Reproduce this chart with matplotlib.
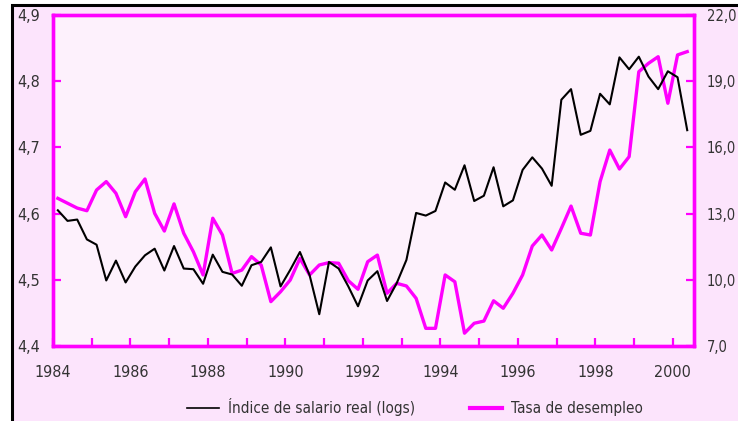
import numpy as np
import matplotlib
matplotlib.use("Agg")
import matplotlib.pyplot as plt
from matplotlib.patches import Rectangle
from matplotlib.lines import Line2D
from matplotlib.ticker import FixedLocator, FuncFormatter
from matplotlib import font_manager

names = [f.name for f in font_manager.fontManager.ttflist]
if 'Liberation Sans Narrow' in names:
    plt.rcParams['font.family'] = ['Liberation Sans Narrow', 'DejaVu Sans']
else:
    plt.rcParams['font.family'] = ['DejaVu Sans', 'Liberation Sans']
    plt.rcParams['font.stretch'] = 'condensed'

# Quarterly observations 1984Q1 .. 2000Q2 (plotted at mid-quarter)
quarters = 1984.125 + 0.25 * np.arange(66)

salario_real_log = [
    4.605, 4.589, 4.591, 4.561, 4.553, 4.499, 4.529, 4.496,
    4.520, 4.537, 4.547, 4.514, 4.551, 4.517, 4.516, 4.494,
    4.538, 4.512, 4.508, 4.491, 4.522, 4.527, 4.549, 4.490,
    4.515, 4.542, 4.507, 4.448, 4.527, 4.517, 4.490, 4.460,
    4.499, 4.513, 4.468, 4.495, 4.530, 4.601, 4.597, 4.604,
    4.647, 4.636, 4.673, 4.619, 4.627, 4.670, 4.611, 4.620,
    4.666, 4.685, 4.668, 4.642, 4.772, 4.788, 4.719, 4.725,
    4.781, 4.765, 4.836, 4.818, 4.837, 4.807, 4.788, 4.815,
    4.806, 4.726,
]

tasa_desempleo = [
    13.69, 13.47, 13.25, 13.13, 14.07, 14.45, 13.92, 12.86,
    13.99, 14.57, 13.01, 12.21, 13.44, 12.11, 11.27, 10.22,
    12.79, 12.03, 10.29, 10.44, 11.05, 10.67, 9.01, 9.46,
    9.99, 10.97, 10.22, 10.67, 10.78, 10.75, 9.96, 9.57,
    10.82, 11.12, 9.39, 9.84, 9.72, 9.16, 7.80, 7.80,
    10.22, 9.91, 7.58, 8.03, 8.13, 9.05, 8.71, 9.39,
    10.22, 11.53, 12.03, 11.35, 12.33, 13.34, 12.11, 12.03,
    14.45, 15.88, 15.02, 15.58, 19.43, 19.81, 20.11, 18.00,
    20.19, 20.34,
]

left_ticks = [4.4, 4.5, 4.6, 4.7, 4.8, 4.9]
right_ticks = [7.0, 10.0, 13.0, 16.0, 19.0, 22.0]
year_labels = [1984, 1986, 1988, 1990, 1992, 1994, 1996, 1998, 2000]
year_minor = list(range(1984, 2001))

label_salario = "Índice de salario real (logs)"
label_desempleo = "Tasa de desempleo"

MAG = "#FF00FF"
OUTER = "#FCE4FC"
INNER = "#FDF1FC"
TXT = "#333333"

W, H = 738, 421
fig = plt.figure(figsize=(W / 100, H / 100), dpi=100, facecolor="white")

# outer pink panel with black border (left/top)
fig.patches.append(Rectangle((12 / W, -0.05), 1.2, (H - 5) / H + 0.05,
                             transform=fig.transFigure, facecolor=OUTER,
                             edgecolor="black", linewidth=2.2, zorder=-10))

ax = fig.add_axes([53 / W, (H - 346) / H, (694 - 53) / W, (346 - 15) / H])
ax2 = ax.twinx()

ax.plot(quarters, salario_real_log, color="black", lw=1.5, zorder=4, clip_on=False)
ax2.plot(quarters, tasa_desempleo, color=MAG, lw=2.4, zorder=3, clip_on=False)
ax.set_zorder(ax2.get_zorder() + 1)
ax.patch.set_visible(False)
ax2.patch.set_visible(True)
ax2.patch.set_facecolor(INNER)

ax.set_xlim(1984, 2000.55)
ax.set_ylim(4.4, 4.9)
ax2.set_ylim(7.0, 22.0)

fmt = FuncFormatter(lambda v, p: f"{v:.1f}".replace(".", ","))
ax.yaxis.set_major_locator(FixedLocator(left_ticks))
ax.yaxis.set_major_formatter(fmt)
ax2.yaxis.set_major_locator(FixedLocator(right_ticks))
ax2.yaxis.set_major_formatter(fmt)
ax.xaxis.set_major_locator(FixedLocator(year_minor))
ax.set_xticklabels([str(y) if y in year_labels else "" for y in year_minor])

for a in (ax, ax2):
    for s in a.spines.values():
        s.set_color(MAG)
        s.set_linewidth(2.4)

ax.tick_params(axis="y", direction="in", length=6, width=1.6, color=MAG,
               labelsize=11.5, labelcolor=TXT, pad=9)
ax.tick_params(axis="x", direction="in", length=6, width=1.6, color=MAG,
               labelsize=11.5, labelcolor=TXT, pad=14)
ax2.tick_params(axis="y", direction="in", length=6, width=1.6, color=MAG,
                labelsize=10.5, labelcolor=TXT, pad=9)

handles = [Line2D([], [], color="black", lw=1.2),
           Line2D([], [], color=MAG, lw=3.0)]
fig.legend(handles, [label_salario, label_desempleo], ncol=2, frameon=False,
           loc="center", bbox_to_anchor=(415 / W, (H - 407) / H),
           fontsize=11, handlelength=2.1, handletextpad=0.6, columnspacing=3.6,
           labelcolor=TXT)

fig.savefig("out.png", dpi=100, facecolor="white")
